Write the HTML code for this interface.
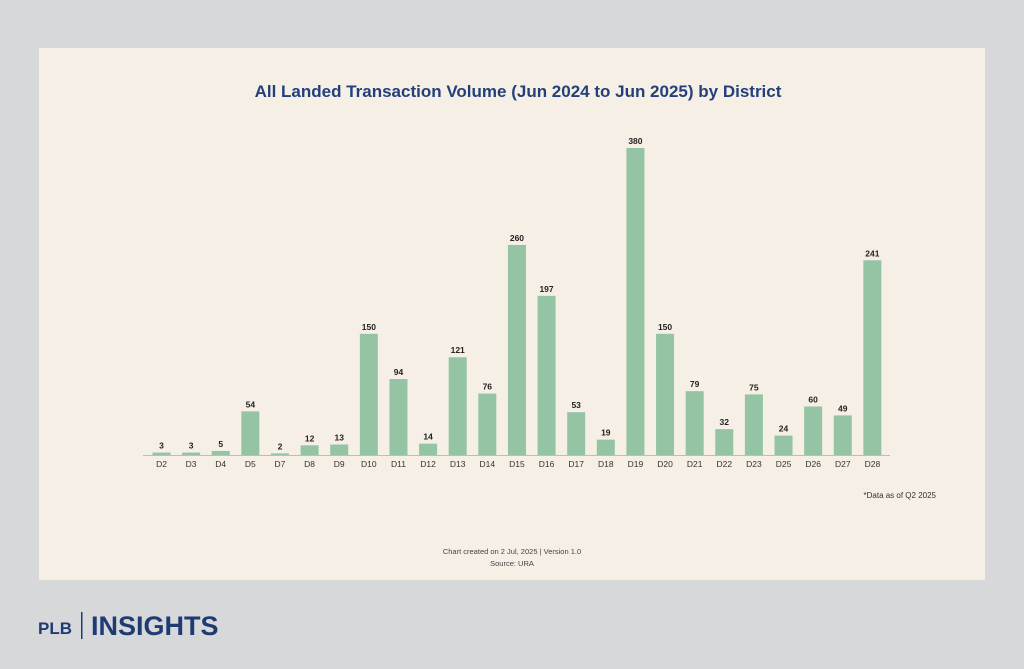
<!DOCTYPE html>
<html><head><meta charset="utf-8"><style>
body{margin:0;width:1024px;height:664px;background:#d6d8da;font-family:"Liberation Sans",sans-serif;overflow:hidden}
</style></head><body>
<svg width="1024" height="664" xmlns="http://www.w3.org/2000/svg" font-family="Liberation Sans, sans-serif">
<rect x="39" y="48" width="946" height="532" fill="#f5efe5"/>
<text x="518" y="97" text-anchor="middle" font-size="17" font-weight="bold" fill="#24407a">All Landed Transaction Volume (Jun 2024 to Jun 2025) by District</text>
<line x1="143" y1="455.5" x2="890" y2="455.5" stroke="#a9c9b3" stroke-width="1"/>
<g id="bars"></g>
<text x="936" y="498" text-anchor="end" font-size="8" fill="#333">*Data as of Q2 2025</text>
<text x="512" y="554" text-anchor="middle" font-size="7.5" fill="#444">Chart created on 2 Jul, 2025 | Version 1.0</text>
<text x="512" y="566" text-anchor="middle" font-size="7.5" fill="#444">Source: URA</text>
<text x="38" y="634" font-size="17" font-weight="bold" fill="#1f3b73">PLB</text>
<rect x="81" y="612" width="1.5" height="27" fill="#1f3b73"/>
<text x="91" y="635" font-size="27" font-weight="bold" fill="#1f3b73">INSIGHTS</text>
</svg>
<script>
const d=[["D2",3],["D3",3],["D4",5],["D5",54],["D7",2],["D8",12],["D9",13],["D10",150],["D11",94],["D12",14],["D13",121],["D14",76],["D15",260],["D16",197],["D17",53],["D18",19],["D19",380],["D20",150],["D21",79],["D22",32],["D23",75],["D25",24],["D26",60],["D27",49],["D28",241]];
let s="";const base=455,k=307/380;
d.forEach((e,i)=>{const c=161.5+i*29.62,h=e[1]*k,t=base-h;
s+=`<rect x="${c-9}" y="${t}" width="18" height="${h}" fill="#94c4a4"/>`;
s+=`<text x="${c}" y="${t-4}" text-anchor="middle" font-size="8.5" font-weight="bold" fill="#222">${e[1]}</text>`;
s+=`<text x="${c}" y="467" text-anchor="middle" font-size="8.5" fill="#333">${e[0]}</text>`;});
document.getElementById("bars").innerHTML=s;
</script>
</body></html>
